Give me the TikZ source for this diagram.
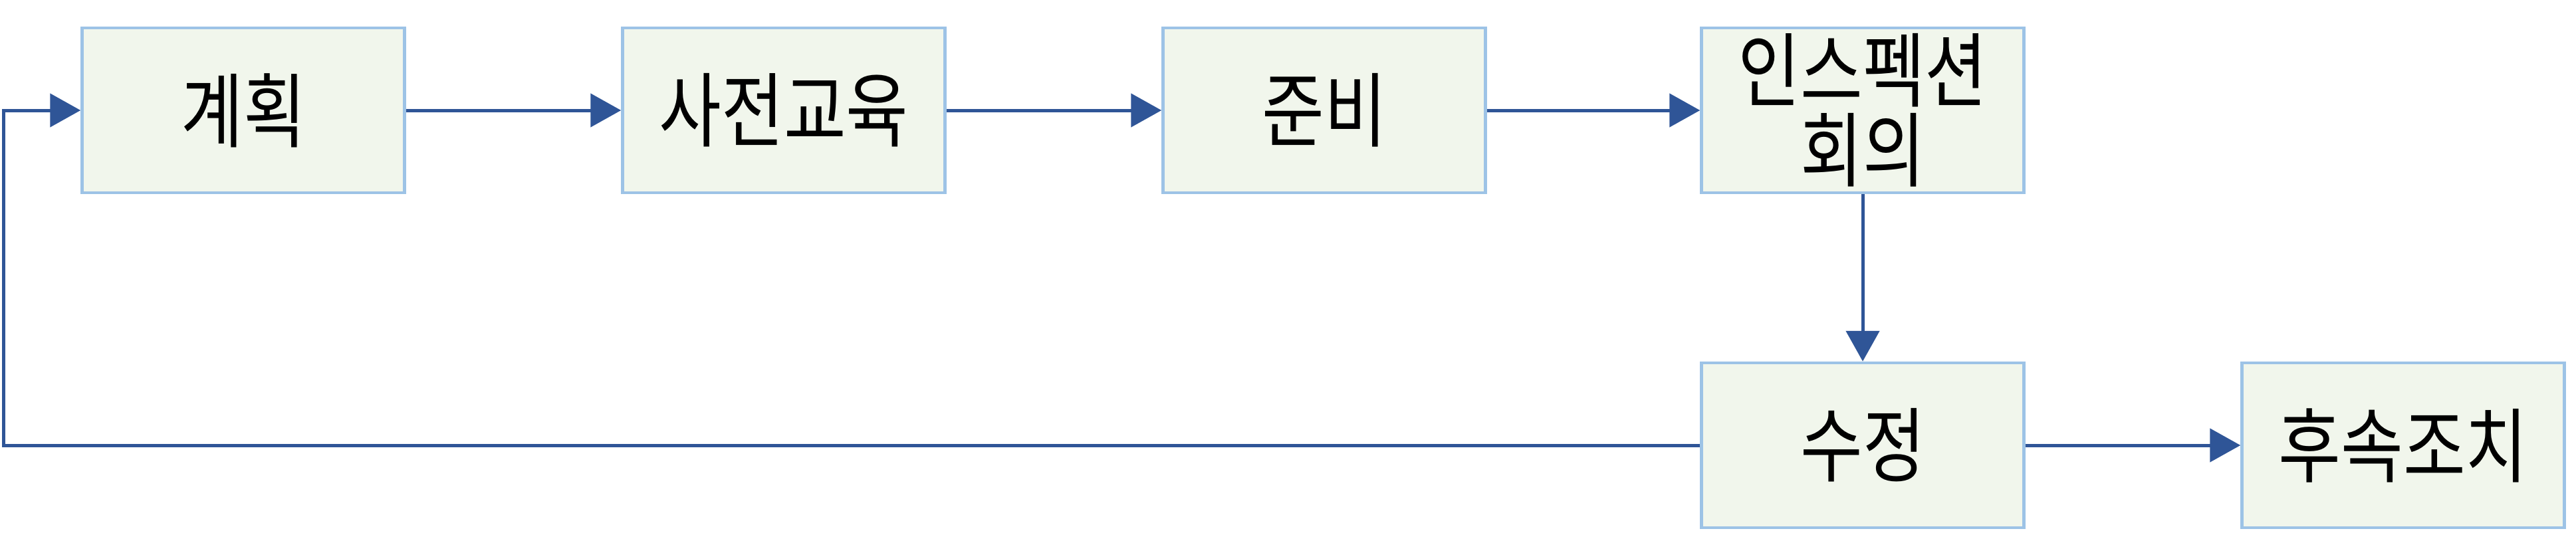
\documentclass[tikz,border=0pt]{standalone}
\usepackage{fontspec}
\newfontfamily\kr{Noto Sans CJK KR}
\usepackage{tikz}
\usetikzlibrary{arrows.meta}
\usepackage{xcolor}
\definecolor{boxfill}{HTML}{F1F6EC}
\definecolor{boxline}{HTML}{9DC3E6}
\definecolor{arrline}{HTML}{2F5597}
% taller, narrow-looking label text
\newcommand\tl[1]{\scalebox{1}[1.2]{\parbox{4.6cm}{\centering\lineskiplimit=-30pt\lineskip=0pt #1}}}

\begin{document}
\begin{tikzpicture}[font=\kr\fontsize{29}{28.5}\selectfont,
  box/.style={draw=boxline,fill=boxfill,line width=0.045cm,align=center,inner sep=0pt,
    minimum width=4.85cm,minimum height=2.48cm},
  ar/.style={-{Triangle[length=0.46cm,width=0.5cm]},draw=arrline,line width=0.05cm}]
\useasboundingbox (0,0) rectangle (38.75,8.04);
\node[box] (plan) at (3.66,6.38) {\tl{계획}};
\node[box] (edu) at (11.79,6.38) {\tl{사전교육}};
\node[box] (prep) at (19.92,6.38) {\tl{준비}};
\node[box] (insp) at (28.02,6.38) {\tl{인스펙션\\회의}};
\node[box] (fix) at (28.02,1.34) {\tl{수정}};
\node[box] (follow) at (36.15,1.34) {\tl{후속조치}};
\coordinate (turn) at (0.05,1.34);
\draw[ar] (plan) -- (edu); \draw[ar] (edu) -- (prep); \draw[ar] (prep) -- (insp);
\draw[ar] (insp) -- (fix); \draw[ar] (fix) -- (follow);
\draw[ar] (fix.west) -- (turn) |- (plan.west);
\end{tikzpicture}
\end{document}
